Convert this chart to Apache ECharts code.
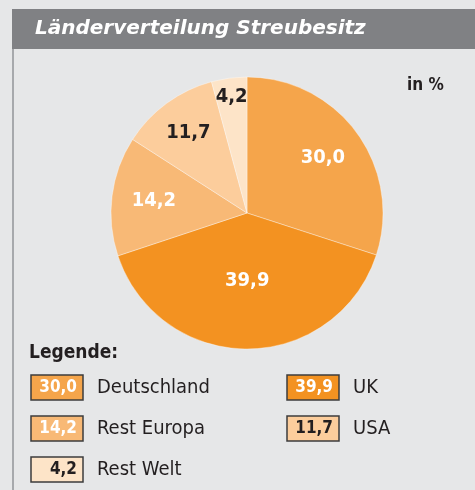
<!DOCTYPE html>
<html><head><meta charset="utf-8">
<script src="https://cdn.jsdelivr.net/npm/echarts@6/dist/echarts.min.js"></script>
<style>html,body{margin:0;padding:0;background:#e6e7e8}#c{width:475px;height:490px}</style>
</head><body><div id="c"></div>
<script>
const categories = ['Deutschland', 'UK', 'Rest Europa', 'USA', 'Rest Welt'];
const values = [30.0, 39.9, 14.2, 11.7, 4.2];
const valueLabels = ['30,0', '39,9', '14,2', '11,7', '4,2'];
const titleText = 'Länderverteilung Streubesitz';
const unitText = 'in %';
const legendTitle = 'Legende:';

const colors = ['#f5a54b', '#f39221', '#f8b976', '#fccd9c', '#fde4c8'];
const labelColors = ['#ffffff', '#ffffff', '#ffffff', '#231f20', '#231f20'];
const labelRadius = [0.69, 0.5, 0.69, 0.73, 0.86];
const FONT = '"DejaVu Sans Condensed", "Liberation Sans Narrow", sans-serif';
const TFONT = '"DejaVu Sans", sans-serif';
const CX = 247, CY = 213, R = 136;
const total = values.reduce((a, b) => a + b, 0);
function midAngle(i) {
  let s = 0;
  for (let k = 0; k < i; k++) s += values[k];
  return (s + values[i] / 2) / total * 2 * Math.PI;
}

const chart = echarts.init(document.getElementById('c'), null, {renderer: 'canvas'});

const graphics = [
  {type: 'rect', shape: {x: 12, y: 9, width: 463, height: 40}, style: {fill: '#808184'}, silent: true},
  {type: 'rect', shape: {x: 12, y: 49, width: 2, height: 441}, style: {fill: '#a7a9ac'}, silent: true},
  {type: 'text', x: 35, y: 29, style: {text: titleText, fill: '#ffffff', font: 'italic bold 20px ' + TFONT, textVerticalAlign: 'middle'}},
  {type: 'text', x: 407, y: 86, style: {text: unitText, fill: '#231f20', font: 'bold 17px ' + FONT, textVerticalAlign: 'middle'}},
  {type: 'text', x: 29, y: 353, style: {text: legendTitle, fill: '#231f20', font: 'bold 19px ' + FONT, textVerticalAlign: 'middle'}}
];
categories.forEach((name, i) => {
  const col = i % 2, row = Math.floor(i / 2);
  const bx = 31 + col * 256, by = 375 + row * 41;
  graphics.push({type: 'rect', shape: {x: bx, y: by, width: 52, height: 25},
    style: {fill: colors[i], stroke: '#3c3c3c', lineWidth: 1.5}, silent: true});
  graphics.push({type: 'text', x: bx + 46, y: by + 13, style: {text: valueLabels[i], fill: labelColors[i],
    font: 'bold 17px ' + FONT, textAlign: 'right', textVerticalAlign: 'middle'}});
  graphics.push({type: 'text', x: bx + 66, y: by + 13, style: {text: name, fill: '#231f20',
    font: '20px ' + FONT, textVerticalAlign: 'middle'}});
});

chart.setOption({
  backgroundColor: '#e6e7e8',
  animation: false,
  graphic: graphics,
  series: [{
    type: 'pie',
    center: [CX, CY],
    radius: [0, R],
    startAngle: 90,
    clockwise: true,
    silent: true,
    itemStyle: {borderColor: 'rgba(255,255,255,0.45)', borderWidth: 0.8},
    label: {
      show: true,
      position: 'inside',
      formatter: p => valueLabels[p.dataIndex],
      fontFamily: FONT,
      fontWeight: 'bold',
      fontSize: 20
    },
    labelLine: {show: false},
    labelLayout: function (params) {
      const a = midAngle(params.dataIndex);
      const r = R * labelRadius[params.dataIndex];
      return {x: CX + r * Math.sin(a), y: CY - r * Math.cos(a), align: 'center', verticalAlign: 'middle'};
    },
    data: categories.map((n, i) => ({
      name: n, value: values[i],
      itemStyle: {color: colors[i]},
      label: {color: labelColors[i]}
    }))
  }]
});
</script></body></html>
